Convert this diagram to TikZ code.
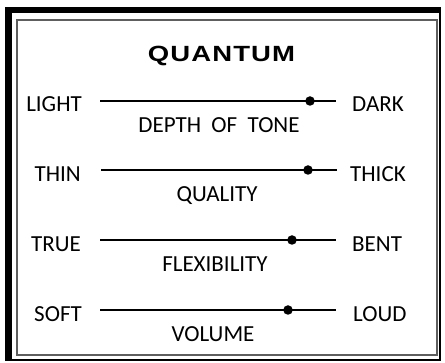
\documentclass[tikz,border=0pt]{standalone}
\usepackage{fontspec}
\setmainfont{Carlito}
\newfontfamily\titlefont[LetterSpace=4]{Liberation Sans}
\usetikzlibrary{positioning}
\definecolor{FrameGray}{HTML}{5E5E5E}

\begin{document}
\begin{tikzpicture}[x=1pt,y=-1pt,font=\fontsize{23}{26}\selectfont,
    leftlabel/.style={anchor=base east,inner sep=0pt},
    rightlabel/.style={anchor=base west,inner sep=0pt},
    scalename/.style={anchor=base,inner sep=0pt},
    slider/.style={line width=2.8pt},
    knob/.style={circle,fill=black,inner sep=0pt,minimum size=9.5pt}]
    \useasboundingbox (0,0) rectangle (445,363);

    % Shadowed outer frame and thin inner frame.
    \fill[black] (5,7) rectangle (441,361);
    \fill[white] (12,13) rectangle (439,359);
    \draw[FrameGray,line width=2pt] (17,20) rectangle (437,355);

    % Title.
    \node[scalename] (title) at (221.5,62)
      {\titlefont\bfseries\fontsize{22}{24}\selectfont\scalebox{1.25}[1]{QUANTUM}};

    % Depth of tone.
    \coordinate (lightEnd) at (100,101);
    \coordinate (darkEnd) at (336,101);
    \draw[slider] (lightEnd) -- (darkEnd);
    \node[knob] (toneKnob) at (310,101) {};
    \node[leftlabel] (light) at (82,112) {LIGHT};
    \node[rightlabel] (dark) at (352,112) {DARK};
    \node[scalename] (tone) at (219,133) {DEPTH\ \ OF\ \ TONE};

    % Quality.
    \coordinate (thinEnd) at (101,170);
    \coordinate (thickEnd) at (337,170);
    \draw[slider] (thinEnd) -- (thickEnd);
    \node[knob] (qualityKnob) at (308,170) {};
    \node[leftlabel] (thin) at (81,182) {THIN};
    \node[rightlabel] (thick) at (350,182) {THICK};
    \node[scalename] (quality) at (217,202) {QUALITY};

    % Flexibility.
    \coordinate (trueEnd) at (100,240);
    \coordinate (bentEnd) at (336,240);
    \draw[slider] (trueEnd) -- (bentEnd);
    \node[knob] (flexKnob) at (292,240) {};
    \node[leftlabel] (true) at (81,252) {TRUE};
    \node[rightlabel] (bent) at (352,252) {BENT};
    \node[scalename] (flex) at (215,272) {FLEXIBILITY};

    % Volume.
    \coordinate (softEnd) at (100,310);
    \coordinate (loudEnd) at (336,310);
    \draw[slider] (softEnd) -- (loudEnd);
    \node[knob] (volumeKnob) at (288,310) {};
    \node[leftlabel] (soft) at (82,322) {SOFT};
    \node[rightlabel] (loud) at (353,322) {LOUD};
    \node[scalename] (volume) at (213,342) {VOLUME};
\end{tikzpicture}
\end{document}
